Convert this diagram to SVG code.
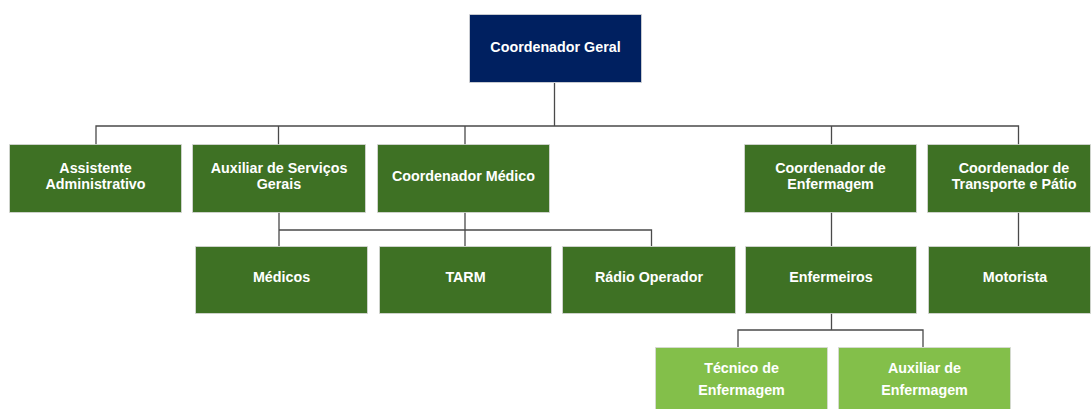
<svg xmlns="http://www.w3.org/2000/svg" width="1091" height="409" viewBox="0 0 1091 409">
<style>
.n{stroke:#d9d9d9;stroke-width:0.8}
.navy{fill:#002060}
.dg{fill:#3e7124}
.lg{fill:#83bf4a}
text{font-family:"Liberation Sans",Arial,sans-serif;font-weight:bold;font-size:14.3px;fill:#ffffff;text-anchor:middle}
.c{stroke:#4a4a4a;stroke-width:1.3;fill:none}
</style>
<rect width="1091" height="409" fill="#ffffff"/>
<g id="connectors">
<path class="c" d="M554.5,83V126M96,145V126H1018.5V145M278.5,126V145M465,126V145M831.5,126V145"/>
<path class="c" d="M279,212V246M465,212V246M279,230H651.5V246"/>
<path class="c" d="M831.5,212V246M1018.5,212V246"/>
<path class="c" d="M831.5,313V330M738,347V330H923V347"/>
</g>
<g id="coordenador-geral"><rect class="n navy" x="469.5" y="14.5" width="172" height="68"/><text x="555.5" y="52">Coordenador Geral</text></g>
<g id="assistente-administrativo"><rect class="n dg" x="9.5" y="144.5" width="172" height="68"/><text x="95.5" y="173">Assistente</text><text x="95.5" y="189">Administrativo</text></g>
<g id="auxiliar-servicos-gerais"><rect class="n dg" x="192.5" y="144.5" width="173" height="68"/><text x="279" y="173">Auxiliar de Serviços</text><text x="279" y="189">Gerais</text></g>
<g id="coordenador-medico"><rect class="n dg" x="377.5" y="144.5" width="172" height="68"/><text x="463.5" y="181">Coordenador Médico</text></g>
<g id="coordenador-enfermagem"><rect class="n dg" x="744.5" y="144.5" width="172" height="68"/><text x="830.5" y="173">Coordenador de</text><text x="830.5" y="189">Enfermagem</text></g>
<g id="coordenador-transporte"><rect class="n dg" x="927.5" y="144.5" width="163" height="68"/><text x="1014" y="173">Coordenador de</text><text x="1014" y="189">Transporte e Pátio</text></g>
<g id="medicos"><rect class="n dg" x="195.5" y="246.5" width="172" height="67"/><text x="281.5" y="282">Médicos</text></g>
<g id="tarm"><rect class="n dg" x="379.5" y="246.5" width="172" height="67"/><text x="465.5" y="282">TARM</text></g>
<g id="radio-operador"><rect class="n dg" x="562.5" y="246.5" width="173" height="67"/><text x="649" y="282">Rádio Operador</text></g>
<g id="enfermeiros"><rect class="n dg" x="745.5" y="246.5" width="171" height="67"/><text x="831" y="282">Enfermeiros</text></g>
<g id="motorista"><rect class="n dg" x="928.5" y="246.5" width="162" height="67"/><text x="1015" y="282">Motorista</text></g>
<g id="tecnico-enfermagem"><rect class="n lg" x="655.5" y="347.5" width="172" height="62"/><text x="741.5" y="373">Técnico de</text><text x="741.5" y="395">Enfermagem</text></g>
<g id="auxiliar-enfermagem"><rect class="n lg" x="838.5" y="347.5" width="172" height="62"/><text x="924.5" y="373">Auxiliar de</text><text x="924.5" y="395">Enfermagem</text></g>
</svg>
